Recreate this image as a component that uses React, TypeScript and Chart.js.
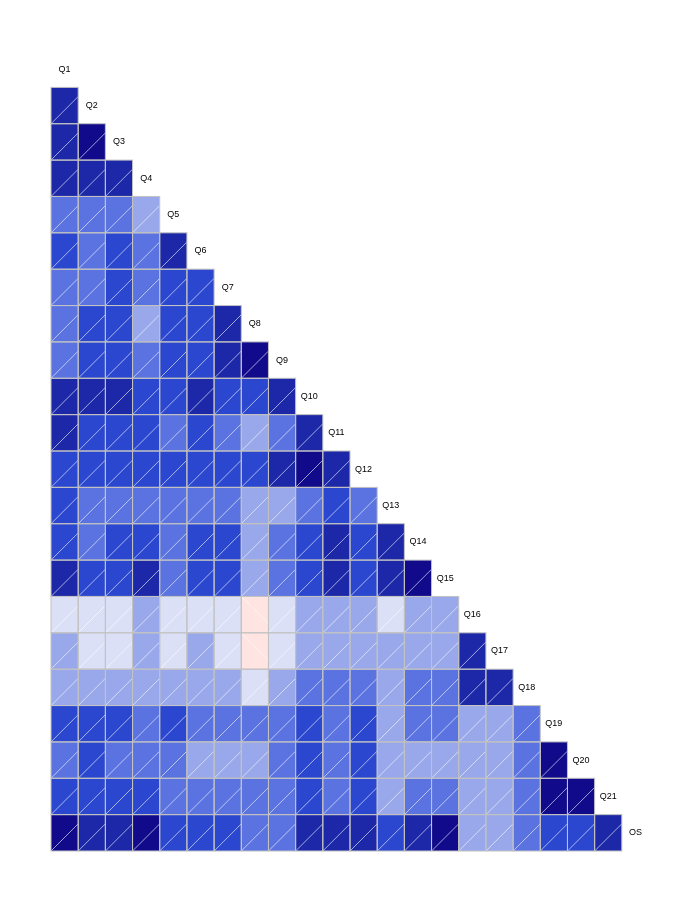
import React, { useEffect, useRef } from "react";
import { Chart, registerables } from "chart.js";

Chart.register(...registerables);

// Variable names (diagonal labels)
const variables = [
  "Q1", "Q2", "Q3", "Q4", "Q5", "Q6", "Q7", "Q8", "Q9", "Q10", "Q11",
  "Q12", "Q13", "Q14", "Q15", "Q16", "Q17", "Q18", "Q19", "Q20", "Q21", "OS",
];

// Lower-triangle correlations, one array per variable (vs. earlier variables)
const rowQ2 = [0.64];
const rowQ3 = [0.65, 0.8];
const rowQ4 = [0.66, 0.63, 0.65];
const rowQ5 = [0.38, 0.37, 0.39, 0.22];
const rowQ6 = [0.5, 0.38, 0.51, 0.37, 0.66];
const rowQ7 = [0.37, 0.38, 0.5, 0.36, 0.52, 0.5];
const rowQ8 = [0.37, 0.5, 0.5, 0.21, 0.5, 0.5, 0.66];
const rowQ9 = [0.38, 0.5, 0.51, 0.36, 0.5, 0.51, 0.65, 0.79];
const rowQ10 = [0.65, 0.64, 0.66, 0.52, 0.5, 0.65, 0.5, 0.51, 0.64];
const rowQ11 = [0.65, 0.5, 0.51, 0.5, 0.37, 0.5, 0.36, 0.22, 0.37, 0.66];
const rowQ12 = [0.5, 0.51, 0.5, 0.51, 0.5, 0.5, 0.5, 0.51, 0.65, 0.78, 0.66];
const rowQ13 = [0.5, 0.37, 0.37, 0.36, 0.37, 0.36, 0.37, 0.22, 0.21, 0.37, 0.5, 0.37];
const rowQ14 = [0.51, 0.36, 0.51, 0.5, 0.37, 0.51, 0.5, 0.21, 0.37, 0.5, 0.65, 0.51, 0.66];
const rowQ15 = [0.66, 0.5, 0.5, 0.65, 0.36, 0.5, 0.51, 0.21, 0.37, 0.5, 0.65, 0.5, 0.65, 0.79];
const rowQ16 = [0.08, 0.07, 0.08, 0.2, 0.07, 0.08, 0.07, -0.05, 0.08, 0.21, 0.2, 0.21, 0.08, 0.2, 0.22];
const rowQ17 = [0.21, 0.08, 0.07, 0.21, 0.07, 0.21, 0.08, -0.04, 0.08, 0.21, 0.2, 0.21, 0.22, 0.21, 0.2, 0.66];
const rowQ18 = [0.21, 0.22, 0.21, 0.2, 0.21, 0.22, 0.21, 0.08, 0.21, 0.37, 0.36, 0.37, 0.21, 0.37, 0.36, 0.65, 0.66];
const rowQ19 = [0.51, 0.5, 0.5, 0.37, 0.51, 0.37, 0.36, 0.37, 0.37, 0.5, 0.37, 0.5, 0.21, 0.37, 0.36, 0.21, 0.22, 0.37];
const rowQ20 = [0.37, 0.5, 0.37, 0.37, 0.36, 0.21, 0.22, 0.21, 0.37, 0.51, 0.37, 0.5, 0.21, 0.22, 0.21, 0.21, 0.22, 0.37, 0.8];
const rowQ21 = [0.5, 0.51, 0.5, 0.5, 0.37, 0.37, 0.36, 0.37, 0.37, 0.5, 0.37, 0.51, 0.21, 0.37, 0.36, 0.21, 0.21, 0.37, 0.79, 0.8];
const rowOS = [0.8, 0.65, 0.66, 0.79, 0.5, 0.51, 0.5, 0.37, 0.36, 0.65, 0.66, 0.65, 0.5, 0.65, 0.79, 0.21, 0.22, 0.37, 0.51, 0.5, 0.66];

const lowerRows = [
  rowQ2, rowQ3, rowQ4, rowQ5, rowQ6, rowQ7, rowQ8, rowQ9, rowQ10, rowQ11,
  rowQ12, rowQ13, rowQ14, rowQ15, rowQ16, rowQ17, rowQ18, rowQ19, rowQ20,
  rowQ21, rowOS,
];

// 14 shade bins over [-1, 1]
const binColors = [
  "#ff0000", "#fd2723", "#fc4f46", "#fa7669", "#fb9e93",
  "#fdc5be", "#ffe4e1", "#dbe0f7", "#98a8ea", "#5a73e0",
  "#2b47cf", "#1c28a8", "#110b8c", "#000080",
];
const gridColor = "#c2c2c2";
const hatchColor = "rgba(255,255,255,0.6)";
const labelColor = "#000000";

function shade(r: number): string {
  const n = binColors.length;
  let k = Math.floor(((r + 1) / 2) * n);
  if (k < 0) k = 0;
  if (k > n - 1) k = n - 1;
  return binColors[k];
}

const cellPoints: { x: number; y: number; v: number }[] = [];
lowerRows.forEach((row, i) => {
  row.forEach((v, j) => {
    cellPoints.push({ x: j, y: i + 1, v });
  });
});

const corrPlugin = {
  id: "corrShade",
  afterDatasetsDraw(chart: any) {
    const ctx = chart.ctx as CanvasRenderingContext2D;
    const xs = chart.scales.x;
    const ys = chart.scales.y;
    const data = chart.data.datasets[0].data as { x: number; y: number; v: number }[];
    ctx.save();
    for (const p of data) {
      const x0 = xs.getPixelForValue(p.x - 0.5);
      const x1 = xs.getPixelForValue(p.x + 0.5);
      const y0 = ys.getPixelForValue(p.y - 0.5);
      const y1 = ys.getPixelForValue(p.y + 0.5);
      const w = x1 - x0;
      ctx.fillStyle = shade(p.v);
      ctx.fillRect(x0, y0, w, y1 - y0);
      ctx.strokeStyle = hatchColor;
      ctx.lineWidth = 1;
      ctx.beginPath();
      if (p.v >= 0) {
        ctx.moveTo(x0, y1);
        ctx.lineTo(x1, y1 - w);
      } else {
        ctx.moveTo(x0, y0);
        ctx.lineTo(x1, y0 + w);
      }
      ctx.stroke();
    }
    ctx.strokeStyle = gridColor;
    ctx.lineWidth = 1;
    for (const p of data) {
      const x0 = xs.getPixelForValue(p.x - 0.5);
      const x1 = xs.getPixelForValue(p.x + 0.5);
      const y0 = ys.getPixelForValue(p.y - 0.5);
      const y1 = ys.getPixelForValue(p.y + 0.5);
      ctx.strokeRect(x0, y0, x1 - x0, y1 - y0);
    }
    ctx.fillStyle = labelColor;
    ctx.font = '9px "Liberation Sans", Arial, sans-serif';
    ctx.textAlign = "center";
    ctx.textBaseline = "middle";
    variables.forEach((name, i) => {
      ctx.fillText(name, xs.getPixelForValue(i), ys.getPixelForValue(i));
    });
    ctx.restore();
  },
};

export default function App() {
  const ref = useRef<HTMLCanvasElement | null>(null);
  useEffect(() => {
    if (!ref.current) return;
    const n = variables.length;
    const chart = new Chart(ref.current, {
      type: "scatter",
      data: {
        datasets: [
          {
            data: cellPoints as any,
            pointRadius: 0,
            pointHoverRadius: 0,
          },
        ],
      },
      options: {
        responsive: false,
        animation: false,
        events: [],
        layout: { padding: 51 },
        plugins: { legend: { display: false }, tooltip: { enabled: false } },
        scales: {
          x: { type: "linear", min: -0.5, max: n - 0.5, display: false },
          y: { type: "linear", min: -0.5, max: n - 0.5, reverse: true, display: false },
        },
      },
      plugins: [corrPlugin],
    });
    return () => chart.destroy();
  }, []);
  return (
    <canvas
      ref={ref}
      width={700}
      height={902}
      style={{ position: "fixed", left: 0, top: 0, display: "block", background: "#ffffff" }}
    />
  );
}
